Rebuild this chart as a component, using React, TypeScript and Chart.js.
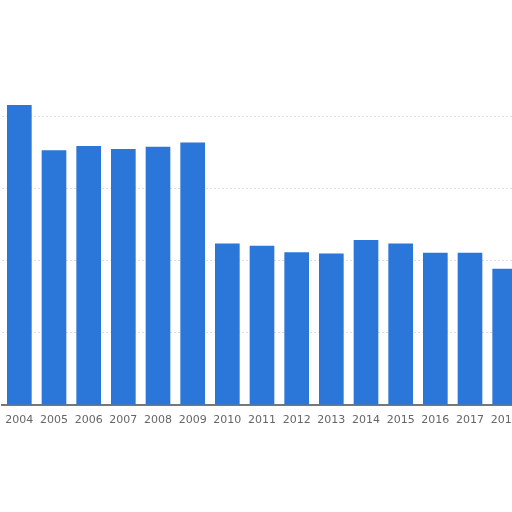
import { useEffect, useRef } from 'react'
import { Chart, registerables } from 'chart.js'

Chart.register(...registerables)

const years = ['2004', '2005', '2006', '2007', '2008', '2009', '2010', '2011', '2012', '2013', '2014', '2015', '2016', '2017', '2018']
const values = [415, 352, 358, 354, 357, 363, 223, 220, 211, 209, 228, 223, 210, 210, 188]

export default function App() {
  const canvasRef = useRef<HTMLCanvasElement>(null)
  const chartRef = useRef<any>(null)

  useEffect(() => {
    if (!canvasRef.current) return
    if (chartRef.current) chartRef.current.destroy()

    chartRef.current = new Chart(canvasRef.current, {
      type: 'bar',
      data: {
        labels: years,
        datasets: [
          {
            data: values,
            backgroundColor: '#2b76d9',
            barThickness: 24,
          },
        ],
      },
      options: {
        responsive: true,
        maintainAspectRatio: false,
        animation: false,
        layout: { padding: { top: 98, left: 2, right: 0, bottom: 84 } },
        plugins: {
          legend: { display: false },
          tooltip: { enabled: false },
        },
        scales: {
          x: {
            grid: { display: false },
            border: { color: '#777', width: 2 },
            ticks: {
              color: '#666',
              font: { family: "'DejaVu Sans', sans-serif", size: 11 },
              padding: 1,
              maxRotation: 0,
              autoSkip: false,
            },
          },
          y: {
            min: 0,
            max: 425,
            ticks: { display: false, stepSize: 100 },
            border: { display: false, dash: [2, 2] },
            grid: {
              color: (ctx: any) => (ctx.tick && ctx.tick.value % 100 === 0 && ctx.tick.value > 0 ? '#dedede' : 'transparent'),
              drawTicks: false,
            },
          },
        },
      },
    })

    return () => {
      if (chartRef.current) chartRef.current.destroy()
    }
  }, [])

  return (
    <div style={{ position: 'fixed', left: 0, top: 0, width: 512, height: 512, overflow: 'hidden', background: '#fff' }}>
      <div style={{ position: 'relative', width: 522, height: 512 }}>
        <canvas ref={canvasRef} />
      </div>
    </div>
  )
}
